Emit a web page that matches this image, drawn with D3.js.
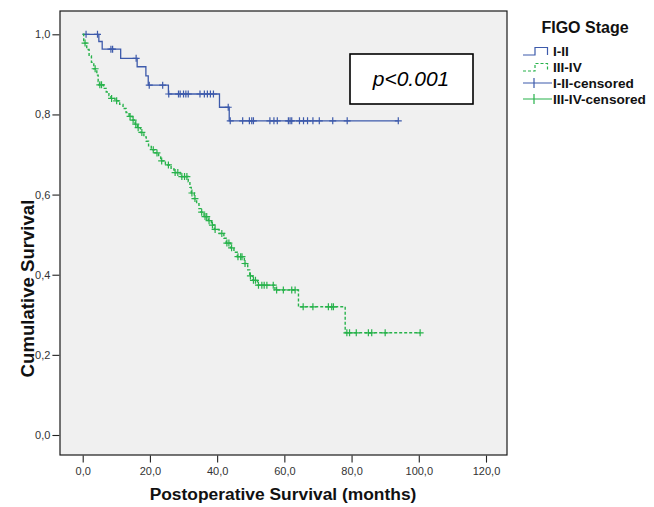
<!DOCTYPE html>
<html>
<head>
<meta charset="utf-8">
<script src="https://cdn.jsdelivr.net/npm/d3@7"></script>
<style>
  body { margin: 0; background: #fff; }
  svg { display: block; font-family: Arial, "Liberation Sans", sans-serif; }
</style>
</head>
<body>
<svg id="chart" width="654" height="507"></svg>
<script>
// Axis ticks
const xTicks = [0, 20, 40, 60, 80, 100, 120];
const yTicks = [0, 0.2, 0.4, 0.6, 0.8, 1.0];

// FIGO I-II: event times (months) and survival after each event
const earlyTimes = [4.8, 5.8, 11.3, 16.2, 18.8, 19.5, 25.5, 40.7, 43.6];
const earlySurv  = [0.982, 0.963, 0.940, 0.919, 0.896, 0.873, 0.851, 0.818, 0.784];
const earlyCensored = [1.0, 4.4, 8.4, 8.9, 15.9, 19.8, 23.8, 25.6, 28.5, 29.0, 30.0, 30.7, 31.4,
  34.9, 36.2, 37.1, 38.0, 38.9, 43.3, 43.9, 47.6, 49.6, 50.3, 50.8, 55.7, 56.9, 57.9, 61.2,
  61.7, 62.2, 64.5, 65.7, 66.9, 68.5, 70.4, 74.4, 78.7, 93.9];

// FIGO III-IV: event times (months) and survival after each event
const lateTimes = [0.3, 1.2, 1.9, 2.6, 3.3, 4.2, 4.6, 5.0, 6.2, 7.0, 7.8, 8.4, 9.6, 11.0, 12.0,
  12.9, 13.8, 14.8, 15.6, 16.3, 17.2, 18.2, 18.9, 19.6, 20.4, 21.5, 22.6, 23.2, 24.6, 26.3,
  27.2, 29.0, 31.4, 31.9, 32.3, 33.2, 33.9, 34.6, 35.2, 36.1, 37.4, 38.3, 39.2, 40.6, 42.0,
  42.7, 44.0, 45.0, 46.0, 48.1, 49.1, 49.7, 50.6, 52.0, 57.2, 64.2, 78.1];
const lateSurv = [0.978, 0.962, 0.946, 0.930, 0.914, 0.898, 0.882, 0.874, 0.865, 0.856, 0.847,
  0.840, 0.834, 0.825, 0.815, 0.805, 0.795, 0.786, 0.776, 0.767, 0.755, 0.744, 0.733, 0.722,
  0.712, 0.704, 0.694, 0.684, 0.674, 0.664, 0.655, 0.645, 0.632, 0.618, 0.604, 0.590, 0.577,
  0.565, 0.556, 0.545, 0.535, 0.524, 0.513, 0.503, 0.491, 0.479, 0.467, 0.456, 0.445, 0.428,
  0.412, 0.397, 0.386, 0.374, 0.362, 0.320, 0.255];
const lateCensored = [0.7, 3.7, 5.1, 5.6, 8.6, 10.1, 14.1, 15.0, 15.8, 16.5, 17.6, 21.0, 22.1,
  23.5, 25.5, 27.5, 28.3, 29.5, 30.3, 31.0, 32.5, 33.4, 35.4, 36.4, 36.9, 37.6, 38.6, 39.4,
  41.4, 42.9, 43.5, 44.3, 46.2, 47.0, 47.4, 48.3, 49.9, 50.8, 51.4, 52.3, 53.3, 54.0, 54.8,
  56.7, 57.7, 59.7, 62.2, 63.2, 65.6, 68.5, 73.1, 74.1, 74.6, 78.6, 79.4, 81.4, 85.0, 86.0,
  90.0, 100.4];

const legendLabels = ["I-II", "III-IV", "I-II-censored", "III-IV-censored"];
const blue = "#3d5aab";
const green = "#27b24b";

const svg = d3.select("#chart");

const box = { left: 60, right: 507, top: 11, bottom: 455 };
const x = d3.scaleLinear().domain([0, 120]).range([82.7, 486]);
const y = d3.scaleLinear().domain([0, 1]).range([435, 34.3]);

// plot panel
svg.append("rect")
  .attr("x", box.left).attr("y", box.top)
  .attr("width", box.right - box.left).attr("height", box.bottom - box.top)
  .attr("fill", "#f0f0f0").attr("stroke", "#1a1a1a").attr("stroke-width", 1.2);

const fmt = d => d3.format(".1f")(d).replace(".", ",");

const xAxis = svg.append("g")
  .attr("transform", `translate(0,${box.bottom + 0.6})`)
  .call(d3.axisBottom(x).tickValues(xTicks).tickFormat(fmt).tickSize(7).tickSizeOuter(0).tickPadding(5));
const yAxis = svg.append("g")
  .attr("transform", `translate(${box.left - 0.6},0)`)
  .call(d3.axisLeft(y).tickValues(yTicks).tickFormat(fmt).tickSize(7).tickSizeOuter(0).tickPadding(2));
[xAxis, yAxis].forEach(g => {
  g.select(".domain").remove();
  g.selectAll(".tick line").attr("stroke", "#222").attr("stroke-width", 1.1);
  g.selectAll(".tick text").attr("fill", "#333").style("font-size", "11px")
    .style("font-family", "Arial, 'Liberation Sans', sans-serif");
});

// axis titles
svg.append("text")
  .attr("x", 283).attr("y", 499.5)
  .attr("text-anchor", "middle")
  .style("font-size", "17.4px").style("font-weight", "bold").attr("fill", "#111")
  .text("Postoperative Survival (months)");
svg.append("text")
  .attr("transform", "translate(33.5,288.5) rotate(-90)")
  .attr("text-anchor", "middle")
  .style("font-size", "18.6px").style("font-weight", "bold").attr("fill", "#111")
  .text("Cumulative Survival");

// Kaplan-Meier step curves
function stepPoints(times, surv, endTime) {
  const pts = [[0, 1]];
  times.forEach((t, i) => pts.push([t, surv[i]]));
  pts.push([endTime, surv[surv.length - 1]]);
  return pts;
}
function survAt(times, surv, t) {
  let s = 1;
  times.forEach((tt, i) => { if (tt <= t) s = surv[i]; });
  return s;
}
const line = d3.line().x(d => x(d[0])).y(d => y(d[1])).curve(d3.curveStepAfter);

const series = [
  { times: earlyTimes, surv: earlySurv, cens: earlyCensored, color: blue, dash: null, width: 1.3 },
  { times: lateTimes, surv: lateSurv, cens: lateCensored, color: green, dash: "3,2", width: 1.4 }
];

series.forEach(sr => {
  const end = d3.max(sr.cens);
  svg.append("path")
    .datum(stepPoints(sr.times, sr.surv, end))
    .attr("d", line)
    .attr("fill", "none")
    .attr("stroke", sr.color)
    .attr("stroke-width", sr.width)
    .attr("stroke-dasharray", sr.dash);
  svg.append("g").selectAll("path")
    .data(sr.cens)
    .join("path")
    .attr("d", c => {
      const cx = x(c), cy = y(survAt(sr.times, sr.surv, c));
      return `M${cx - 3.5},${cy}H${cx + 3.5}M${cx},${cy - 3.5}V${cy + 3.5}`;
    })
    .attr("stroke", sr.color)
    .attr("stroke-width", 1.2)
    .attr("fill", "none");
});

// p-value box
svg.append("rect")
  .attr("x", 350).attr("y", 54).attr("width", 123).attr("height", 50)
  .attr("fill", "#fff").attr("stroke", "#000").attr("stroke-width", 1.6);
svg.append("text")
  .attr("x", 411).attr("y", 85.5).attr("text-anchor", "middle")
  .style("font-size", "21px").style("font-style", "italic").attr("fill", "#000")
  .text("p<0.001");

// legend
const lg = svg.append("g");
lg.append("text")
  .attr("x", 585).attr("y", 32.5).attr("text-anchor", "middle")
  .style("font-size", "16px").style("font-weight", "bold").attr("fill", "#111")
  .text("FIGO Stage");
const rowY = [51.5, 67.5, 83, 99];
legendLabels.forEach((lab, i) => {
  const cy = rowY[i];
  const col = (i % 2 === 0) ? blue : green;
  if (i < 2) {
    lg.append("path")
      .attr("d", `M523,${cy + 3.5}H535V${cy - 4}H547.5V${cy + 3.5}`)
      .attr("fill", "none").attr("stroke", col).attr("stroke-width", 1.2)
      .attr("stroke-dasharray", i === 1 ? "3,2" : null);
  } else {
    lg.append("path")
      .attr("d", `M523,${cy}H552M534,${cy - 5}V${cy + 5}`)
      .attr("fill", "none").attr("stroke", col).attr("stroke-width", 1.2);
  }
  lg.append("text")
    .attr("x", 553).attr("y", cy + 4.8)
    .style("font-size", "13.6px").style("font-weight", "bold").attr("fill", "#111")
    .text(lab);
});
</script>
</body>
</html>
